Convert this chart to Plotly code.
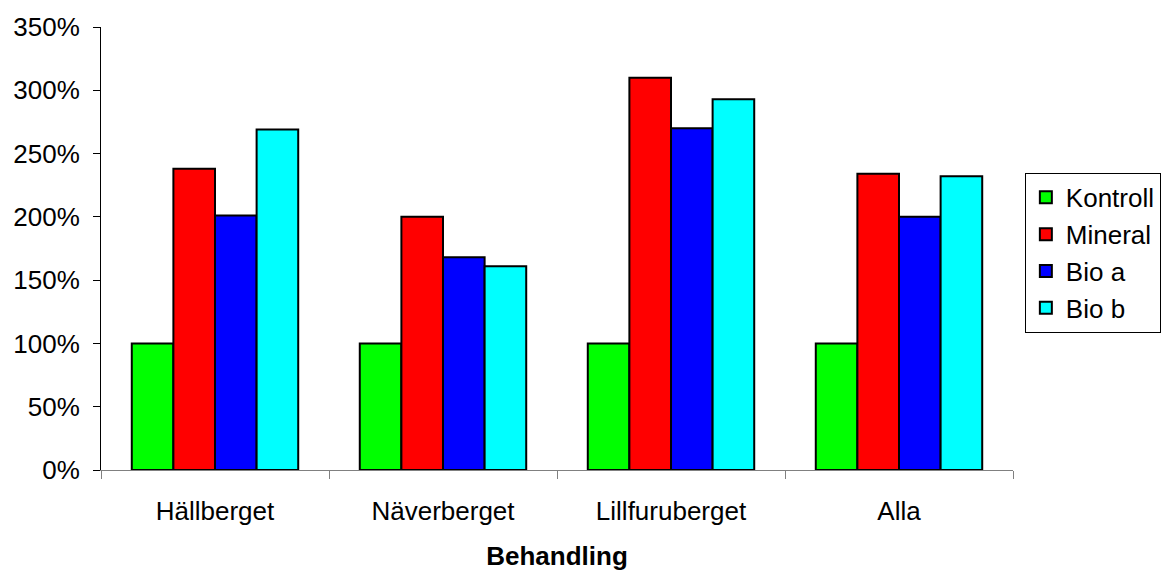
import plotly.graph_objects as go

# Treatment sites and relative values (fraction of control)
sites = ["Hällberget", "Näverberget", "Lillfuruberget", "Alla"]
kontroll = [1.00, 1.00, 1.00, 1.00]
mineral = [2.38, 2.00, 3.10, 2.34]
bio_a = [2.01, 1.68, 2.70, 2.00]
bio_b = [2.69, 1.61, 2.93, 2.32]

series = [
    ("Kontroll", kontroll, "#00FF00"),
    ("Mineral", mineral, "#FF0000"),
    ("Bio a", bio_a, "#0000FF"),
    ("Bio b", bio_b, "#00FFFF"),
]

FONT = "Liberation Sans, Arial, sans-serif"
FS = 26

fig = go.Figure()
for name, vals, color in series:
    fig.add_trace(go.Bar(
        x=sites, y=vals, name=name,
        marker=dict(color=color, line=dict(color="black", width=2)),
    ))

fig.update_layout(
    width=1167, height=571,
    margin=dict(l=101, r=154, t=27, b=101, autoexpand=False),
    paper_bgcolor="white", plot_bgcolor="white",
    barmode="group", bargap=0.27, bargroupgap=0,
    font=dict(family=FONT, size=FS, color="black"),
    showlegend=True,
    legend=dict(
        x=1.013, xanchor="left", y=0.49, yanchor="middle",
        bordercolor="black", borderwidth=1,
        font=dict(family=FONT, size=FS, color="black"),
        tracegroupgap=2, itemwidth=30,
    ),
)

fig.update_yaxes(
    range=[0, 3.5], tickvals=[0, 0.5, 1, 1.5, 2, 2.5, 3, 3.5],
    tickformat=".0%", showgrid=False, zeroline=False,
    showline=True, linecolor="black", linewidth=1,
    ticks="outside", ticklen=7, tickcolor="black",
    ticklabelstandoff=8, automargin=False,
    tickfont=dict(family=FONT, size=FS, color="black"),
)

fig.update_xaxes(
    showgrid=False, showline=True, linecolor="#808080", linewidth=1,
    ticks="outside", ticklen=8, tickcolor="#808080", tickson="boundaries",
    tickfont=dict(family=FONT, size=FS, color="black"),
    ticklabelstandoff=18, automargin=False,
    title=dict(text="<b>Behandling</b>", font=dict(family=FONT, size=FS, color="black"), standoff=22),
)

fig.write_html("out.html")
